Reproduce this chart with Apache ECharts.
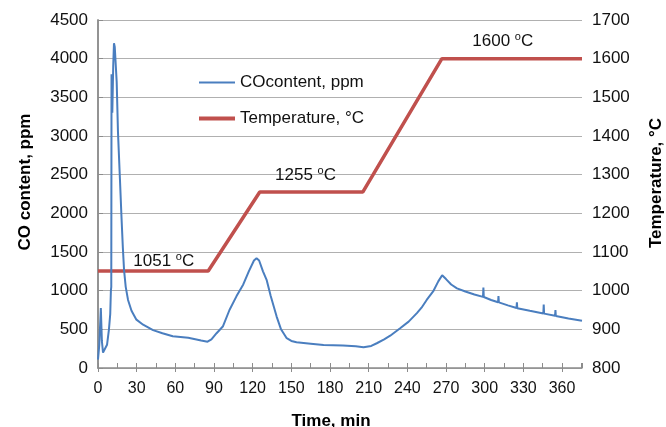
<!DOCTYPE html>
<html>
<head>
<meta charset="utf-8">
<script src="https://cdn.jsdelivr.net/npm/echarts@6/dist/echarts.min.js"></script>
<style>
  html, body { margin: 0; padding: 0; background: #fff; }
  #chart { width: 666px; height: 427px; }
</style>
</head>
<body>
<div id="chart"></div>
<script>
// CO content (ppm) against time (min)
var coTime = [0, 1, 2.2, 3, 3.9, 5, 7, 8.5, 9.5, 10, 10.3, 10.5, 10.9, 11.1, 11.8, 12.4, 13, 14.5, 15.5, 17,
  18.2, 19.3, 20.2, 21.5, 23.3, 26, 29.8, 35, 42.7, 50, 58, 70, 80, 85, 88, 92, 97, 102, 107.5, 112.7,
  117, 121, 123, 125, 128, 130.8, 134, 138.6, 142, 146.4, 150, 154, 165, 175, 190, 200, 206, 212, 216.3, 222,
  226.7, 234.4, 241, 247.4, 251, 255, 260, 264, 267, 270, 274, 278.5, 285, 292,
  298.7, 299, 299.3, 305, 310.4, 310.7, 311, 318, 324.7, 325, 325.3, 335,
  345.5, 345.8, 346.1, 354.6, 354.9, 355.2, 365, 375.5];
var coValue = [110, 300, 776, 350, 200, 210, 300, 500, 700, 1000, 1050, 3800, 3780, 3300, 3900, 4200, 4150, 3700, 3050, 2450,
  1960, 1550, 1270, 1050, 880, 740, 625, 560, 490, 450, 410, 390, 355, 340, 370, 450, 540, 750, 930, 1080,
  1250, 1390, 1420, 1390, 1250, 1140, 930, 665, 500, 385, 350, 332, 315, 298, 290, 280, 268, 285, 320, 370,
  418, 515, 600, 710, 780, 880, 990, 1120, 1200, 1150, 1080, 1030, 990, 950,
  920, 1040, 918, 880, 850, 930, 848, 810, 775, 850, 773, 740,
  705, 820, 703, 675, 750, 673, 640, 612];

// furnace temperature programme
var tempTime = [0, 85.5, 125.5, 205.4, 266.8, 375.5];
var tempValue = [1051, 1051, 1255, 1255, 1600, 1600];

// plateau labels: [time, temperature, text]
var plateauLabels = [[51, 1075, '1051'], [161, 1299, '1255'], [314, 1644, '1600']];

var xTicks = [0, 375.5, 30];
var yLeftTicks = [0, 4500, 500];
var yRightTicks = [800, 1700, 100];

var font = 'Liberation Sans, Arial, Helvetica, sans-serif';

var coData = [];
for (var i = 0; i < coTime.length; i++) {
  coData.push([coTime[i], coValue[i]]);
}
var tempData = [];
for (var i = 0; i < tempTime.length; i++) {
  tempData.push([tempTime[i], tempValue[i]]);
}
var markData = [];
for (var i = 0; i < plateauLabels.length; i++) {
  markData.push({
    coord: [plateauLabels[i][0], plateauLabels[i][1]],
    value: plateauLabels[i][2]
  });
}

// plain numbers, no thousands separator
function plain(v) { return String(v); }

var mychart = echarts.init(document.getElementById('chart'));
mychart.setOption({
  animation: false,
  backgroundColor: '#fff',
  textStyle: { fontFamily: font },
  grid: { left: 98, right: 84, top: 20, bottom: 59, containLabel: false, outerBoundsMode: 'none' },
  legend: {
    orient: 'vertical',
    left: 192,
    top: 69,
    itemWidth: 36,
    itemHeight: 14,
    itemGap: 19,
    itemStyle: { opacity: 0 },
    textStyle: { fontSize: 17, color: '#111', fontFamily: font },
    data: [
      { name: 'COcontent, ppm', lineStyle: { width: 2 } },
      { name: 'Temperature, °C', lineStyle: { width: 4 } }
    ]
  },
  xAxis: [
    {
      type: 'value',
      min: xTicks[0],
      max: xTicks[1],
      interval: xTicks[2],
      name: 'Time, min',
      nameLocation: 'middle',
      nameGap: 45,
      nameTextStyle: { fontSize: 17, fontWeight: 'bold', color: '#000', padding: [0, 18, 0, 0] },
      axisLine: { lineStyle: { color: '#8c8c8c', width: 1.5 } },
      axisTick: { show: true, inside: false, length: 4, lineStyle: { color: '#8c8c8c' } },
      axisLabel: { fontSize: 16, color: '#111', margin: 13, showMaxLabel: false, formatter: plain },
      splitLine: { show: false }
    },
    {
      // inner ticks every 15 min
      type: 'value',
      min: xTicks[0],
      max: xTicks[1],
      interval: 15,
      position: 'bottom',
      axisLine: { show: false },
      axisTick: { show: true, inside: true, length: 5, lineStyle: { color: '#8c8c8c' } },
      axisLabel: { show: false },
      splitLine: { show: false }
    }
  ],
  yAxis: [
    {
      type: 'value',
      min: yLeftTicks[0],
      max: yLeftTicks[1],
      interval: yLeftTicks[2],
      name: 'CO content, ppm',
      nameLocation: 'middle',
      nameRotate: 90,
      nameGap: 64,
      nameTextStyle: { fontSize: 17, fontWeight: 'bold', color: '#000', padding: [0, 0, 0, 24] },
      axisLine: { show: true, lineStyle: { color: '#8c8c8c', width: 1.5 } },
      axisTick: { show: false },
      axisLabel: { fontSize: 17, color: '#111', margin: 10, formatter: plain },
      splitLine: { lineStyle: { color: '#b0b0b0', width: 1 } }
    },
    {
      type: 'value',
      min: yRightTicks[0],
      max: yRightTicks[1],
      interval: yRightTicks[2],
      position: 'right',
      name: 'Temperature, °C',
      nameLocation: 'middle',
      nameRotate: 90,
      nameGap: 66,
      nameTextStyle: { fontSize: 17, fontWeight: 'bold', color: '#000', padding: [0, 0, 0, 22] },
      axisLine: { show: true, lineStyle: { color: '#8c8c8c', width: 1.5 } },
      axisTick: { show: true, length: 5, lineStyle: { color: '#8c8c8c' } },
      axisLabel: { fontSize: 17, color: '#111', margin: 10, formatter: plain },
      splitLine: { show: false }
    }
  ],
  series: [
    {
      name: 'COcontent, ppm',
      type: 'line',
      xAxisIndex: 0,
      yAxisIndex: 0,
      symbol: 'none',
      smooth: false,
      lineStyle: { color: '#4a7ebf', width: 2 },
      itemStyle: { color: '#4a7ebf' },
      data: coData,
      z: 3
    },
    {
      name: 'Temperature, °C',
      type: 'line',
      xAxisIndex: 0,
      yAxisIndex: 1,
      symbol: 'none',
      lineStyle: { color: '#c0504d', width: 3.5 },
      itemStyle: { color: '#c0504d' },
      data: tempData,
      z: 2,
      markPoint: {
        symbol: 'circle',
        symbolSize: 0,
        silent: true,
        label: {
          show: true,
          position: 'inside',
          formatter: function (p) {
            return '{n|' + p.value + ' }{s|o}{n|C}';
          },
          rich: {
            n: { fontSize: 17, color: '#111', fontFamily: font, lineHeight: 20 },
            s: { fontSize: 11, color: '#111', fontFamily: font, verticalAlign: 'top', lineHeight: 11 }
          }
        },
        data: markData
      }
    }
  ]
});
</script>
</body>
</html>
